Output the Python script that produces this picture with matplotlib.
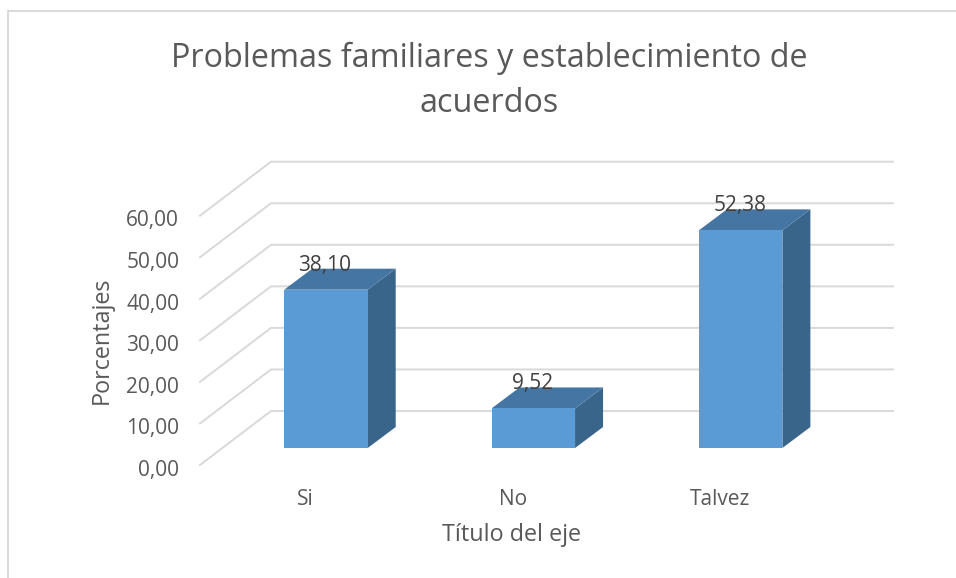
#!/usr/bin/env python3
import matplotlib
matplotlib.use("Agg")
import matplotlib.pyplot as plt
from matplotlib.patches import Polygon
from matplotlib.transforms import ScaledTranslation

plt.rcParams["font.family"] = ["Open Sans", "DejaVu Sans"]

categories = ["Si", "No", "Talvez"]
values = [38.10, 9.52, 52.38]
value_labels = ["38,10", "9,52", "52,38"]
y_ticks = [0, 10, 20, 30, 40, 50, 60]
y_tick_labels = ["0,00", "10,00", "20,00", "30,00", "40,00", "50,00", "60,00"]

W, H = 956, 578
grid_col = "#d9d9d9"
text_col = "#595959"

fig = plt.figure(figsize=(W / 100, H / 100), dpi=100)

# axes = front edge of the floor, the rest is offset from it
ax_l, ax_r, ax_top, ax_bot = 200, 822, 215.7, 465
ax = fig.add_axes([ax_l / W, 1 - ax_bot / H, (ax_r - ax_l) / W, (ax_bot - ax_top) / H])
ax.set_xlim(-0.5, 2.5)
ax.set_ylim(0, 60)
ax.patch.set_visible(False)
for s in ax.spines.values():
    s.set_visible(False)

xu = (ax_r - ax_l) / 3
yu = (ax_bot - ax_top) / 60

# wall depth, bar plane offset, bar depth (px to data)
wall_dx, wall_dy = 71 / xu, 54 / yu
plane_dx, plane_dy = 22.3 / xu, 17 / yu
bar_dx, bar_dy = 28 / xu, 21 / yu
bar_w = 83.5 / xu

# -----------------------------
# gridlines
# -----------------------------
for t in y_ticks:
    ax.plot(
        [-0.5, -0.5 + wall_dx, 2.5 + wall_dx],
        [t, t + wall_dy, t + wall_dy],
        color=grid_col,
        lw=1.4,
        clip_on=False,
        zorder=1,
    )

# -----------------------------
# bars (front, top, side)
# -----------------------------
for i, v in enumerate(values):
    x0 = i - bar_w / 2 + plane_dx
    x1 = x0 + bar_w
    y0 = plane_dy
    y1 = plane_dy + v
    ax.add_patch(
        Polygon(
            [(x1, y0), (x1 + bar_dx, y0 + bar_dy), (x1 + bar_dx, y1 + bar_dy), (x1, y1)],
            facecolor="#3a658a",
            edgecolor="none",
            clip_on=False,
            zorder=3,
        )
    )
    ax.add_patch(
        Polygon(
            [(x0, y1), (x1, y1), (x1 + bar_dx, y1 + bar_dy), (x0 + bar_dx, y1 + bar_dy)],
            facecolor="#4475a3",
            edgecolor="none",
            clip_on=False,
            zorder=3,
        )
    )
    ax.bar(i + plane_dx, v, bar_w, bottom=y0, color="#5b9bd5", clip_on=False, zorder=4)
    ax.text(
        i + plane_dx - 1 / xu,
        y1 + 24.5 / yu,
        value_labels[i],
        ha="center",
        va="center",
        fontsize=15,
        color="#404040",
        zorder=5,
    )

ax.set_xticks([i + 2 / xu for i in range(3)], categories)
ax.set_yticks(y_ticks, y_tick_labels)
ax.tick_params(axis="both", length=0, labelsize=15, labelcolor=text_col)
ax.tick_params(axis="x", pad=17)
ax.tick_params(axis="y", pad=15)
nudge = ScaledTranslation(0, -2 / 72, fig.dpi_scale_trans)
for lab in ax.get_yticklabels():
    lab.set_verticalalignment("center_baseline")
    lab.set_transform(lab.get_transform() + nudge)

fig.text(489 / W, 1 - 58.5 / H, "Problemas familiares y establecimiento de", ha="center", va="center", fontsize=23.3, color=text_col)
fig.text(489 / W, 1 - 103 / H, "acuerdos", ha="center", va="center", fontsize=23.3, color=text_col)
fig.text(512 / W, 1 - 535 / H, "Título del eje", ha="center", va="center", fontsize=16.8, color=text_col)
fig.text(102 / W, 1 - 340 / H, "Porcentajes", ha="center", va="center", rotation=90, fontsize=16.8, color=text_col)

# chart frame
fig.add_artist(plt.Line2D([8 / W, 8 / W], [0, 1 - 11 / H], color=grid_col, lw=1.4))
fig.add_artist(plt.Line2D([8 / W, 956 / W], [1 - 11 / H, 1 - 11 / H], color=grid_col, lw=1.4))

fig.savefig("out.png", dpi=100)
